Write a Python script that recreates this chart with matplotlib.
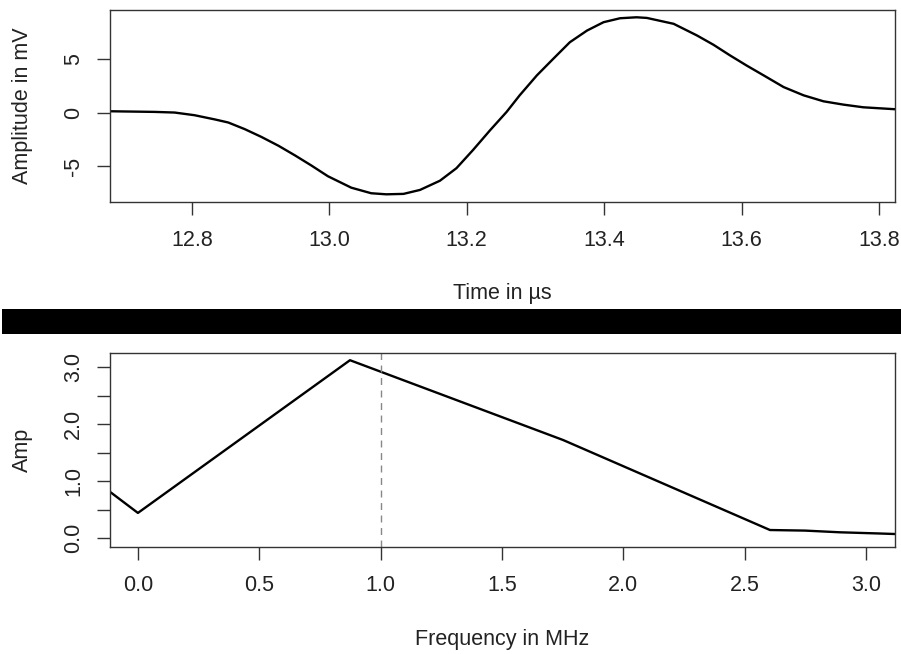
import matplotlib
matplotlib.use("Agg")
import matplotlib.pyplot as plt
from matplotlib.patches import Rectangle

# signal in the time domain
t_us = [12.681, 12.746, 12.775, 12.804, 12.834, 12.853, 12.877, 12.901, 12.926,
        12.950, 12.974, 12.998, 13.032, 13.061, 13.083, 13.108, 13.132, 13.161,
        13.185, 13.209, 13.234, 13.258, 13.277, 13.302, 13.326, 13.350, 13.375,
        13.399, 13.423, 13.447, 13.462, 13.501, 13.535, 13.559, 13.583, 13.607,
        13.632, 13.661, 13.690, 13.719, 13.748, 13.777, 13.823]
amp_mv = [0.12, 0.06, 0.00, -0.25, -0.65, -0.93, -1.55, -2.27, -3.10,
          -4.00, -4.95, -5.95, -7.02, -7.54, -7.64, -7.60, -7.23, -6.37,
          -5.20, -3.51, -1.65, 0.06, 1.61, 3.47, 5.03, 6.57, 7.66,
          8.44, 8.81, 8.90, 8.84, 8.29, 7.20, 6.33, 5.34, 4.40,
          3.47, 2.38, 1.61, 1.05, 0.74, 0.49, 0.31]

# spectrum
freq_mhz = [-0.115, 0.0, 0.874, 1.752, 2.605, 2.749, 2.894, 3.05, 3.12]
spec_amp = [0.81, 0.44, 3.12, 1.72, 0.14, 0.13, 0.10, 0.08, 0.07]
f_mark = 1.0

plt.rcParams['font.family'] = ['Liberation Sans', 'DejaVu Sans']
plt.rcParams['font.size'] = 15.5
ink = '#222222'

fig = plt.figure(figsize=(9.01, 6.54), dpi=100)

ax1 = fig.add_axes([0.1221, 0.6911, 0.8712, 0.2936])
ax1.plot(t_us, amp_mv, color='black', lw=1.7)
ax1.set_xlim(12.681, 13.823)
ax1.set_ylim(-8.36, 9.58)
ax1.set_xticks([12.8, 13.0, 13.2, 13.4, 13.6, 13.8])
ax1.set_xticklabels(['12.8', '13.0', '13.2', '13.4', '13.6', '13.8'])
ax1.set_yticks([-5, 0, 5])
ax1.set_yticklabels(['-5', '0', '5'])
ax1.set_xlabel('Time in µs', color=ink)
ax1.set_ylabel('Amplitude in mV', color=ink)
ax1.xaxis.set_label_coords(0.5, -0.474)
ax1.xaxis.label.set_va('center')
ax1.yaxis.set_label_coords(-0.112, 0.5)
ax1.yaxis.label.set_va('center')

ax2 = fig.add_axes([0.1221, 0.1636, 0.8712, 0.2966])
ax2.plot(freq_mhz, spec_amp, color='black', lw=1.7)
ax2.axvline(f_mark, color='#888888', lw=1.0, ls=(0, (5, 4)))
ax2.set_xlim(-0.115, 3.12)
ax2.set_ylim(-0.158, 3.246)
ax2.set_xticks([0.0, 0.5, 1.0, 1.5, 2.0, 2.5, 3.0])
ax2.set_xticklabels(['0.0', '0.5', '1.0', '1.5', '2.0', '2.5', '3.0'])
ax2.set_yticks([0.0, 0.5, 1.0, 1.5, 2.0, 2.5, 3.0])
ax2.set_yticklabels(['0.0', '', '1.0', '', '2.0', '', '3.0'])
ax2.set_xlabel('Frequency in MHz', color=ink)
ax2.set_ylabel('Amp', color=ink)
ax2.xaxis.set_label_coords(0.5, -0.479)
ax2.xaxis.label.set_va('center')
ax2.yaxis.set_label_coords(-0.112, 0.5)
ax2.yaxis.label.set_va('center')

for ax in (ax1, ax2):
    for s in ax.spines.values():
        s.set_color('#333333')
        s.set_linewidth(1.0)
    ax.tick_params(axis='both', length=9.5, width=1.0, color='#333333',
                   labelcolor=ink)
    ax.tick_params(axis='x', pad=11)
    ax.tick_params(axis='y', pad=9, labelrotation=90)
    for lab in ax.get_yticklabels():
        lab.set_va('center')

# black separator band between the two panels
fig.add_artist(Rectangle((2 / 901, 1 - 334 / 654), 899 / 901, 25 / 654,
                         transform=fig.transFigure, color='black', lw=0))

fig.savefig('out.png', dpi=100)
